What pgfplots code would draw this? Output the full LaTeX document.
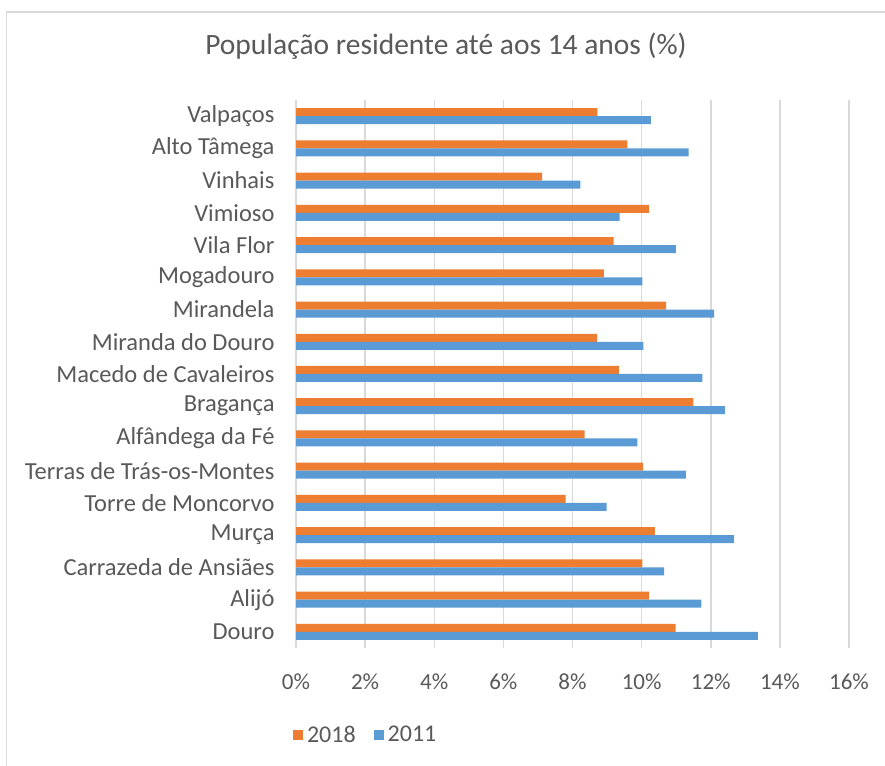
\documentclass[border=0pt]{standalone}
\usepackage{fontspec}
\setmainfont{Carlito}
\usepackage{pgfplots}
\pgfplotsset{compat=1.18}
\definecolor{orng}{HTML}{ED7D31}
\definecolor{blu}{HTML}{5B9BD5}
\definecolor{txt}{HTML}{595959}
\definecolor{grd}{HTML}{D9D9D9}
\begin{document}
\begin{tikzpicture}[x=1pt,y=1pt]
\useasboundingbox (0,0) rectangle (885,765);
\fill[white] (0,0) rectangle (885,765);
\draw[grd, line width=1.5pt] (6.5,-10) -- (6.5,753) -- (900,753);
\node[txt, font=\fontsize{29.5}{34}\selectfont] at (446,719) {População residente até aos 14 anos (\%)};
\begin{axis}[at={(296pt,117pt)}, anchor=south west, width=553pt, height=548pt, scale only axis,
  xbar, bar width=8pt, xmin=0, xmax=16, ymin=-0.5, ymax=16.5,
  xtick={0,2,...,16}, ytick={0,...,16},
  yticklabels={Douro, Alijó, Carrazeda de Ansiães, Murça, Torre de Moncorvo, Terras de Trás-os-Montes, Alfândega da Fé, Bragança, Macedo de Cavaleiros, Miranda do Douro, Mirandela, Mogadouro, Vila Flor, Vimioso, Vinhais, Alto Tâmega, Valpaços},
  axis line style={draw=none}, major tick length=0pt, xmajorgrids, grid style={grd, line width=1.5pt},
  tick label style={txt, font=\fontsize{23}{27}\selectfont},
  yticklabel style={font=\fontsize{24.5}{28}\selectfont, xshift=-18pt},
  /pgf/number format/assume math mode=true,
  xticklabel={\pgfmathprintnumber{\tick}\%},
  xticklabel style={yshift=-22pt},
  legend style={at={(0.126,-0.158)}, anchor=center, draw=none, fill=none, text=txt, font=\fontsize{24}{28}\selectfont, legend columns=2, /tikz/every even column/.append style={column sep=16pt}, /tikz/every odd column/.append style={column sep=2pt}},
  legend image code/.code={\fill[#1] (0pt,-5pt) rectangle (10pt,5pt);},
]
\addplot[fill=orng, draw=none, bar shift=4pt] coordinates {
(10.98,0) (10.22,1) (10.02,2) (10.38,3) (7.80,4) (10.04,5) (8.35,6) (11.50,7) (9.34,8) (8.71,9) (10.71,10) (8.91,11) (9.19,12) (10.22,13) (7.12,14) (9.59,15) (8.72,16)};
\addlegendentry{2018}
\addplot[fill=blu, draw=none, bar shift=-4pt] coordinates {
(13.36,0) (11.73,1) (10.65,2) (12.67,3) (8.99,4) (11.28,5) (9.88,6) (12.41,7) (11.76,8) (10.05,9) (12.10,10) (10.02,11) (10.99,12) (9.36,13) (8.23,14) (11.36,15) (10.27,16)};
\addlegendentry{2011}
\end{axis}
\end{tikzpicture}
\end{document}
